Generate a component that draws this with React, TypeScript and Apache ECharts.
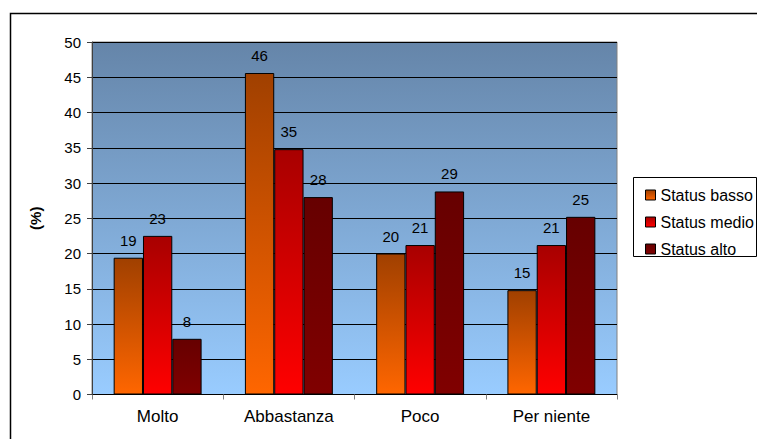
import React, { useEffect, useRef } from "react";
import * as echarts from "echarts";

const categories = ["Molto", "Abbastanza", "Poco", "Per niente"];
const seriesNames = ["Status basso", "Status medio", "Status alto"];
const statusBasso = [19.4, 45.6, 20.0, 14.8];
const statusMedio = [22.5, 34.8, 21.2, 21.2];
const statusAlto = [7.9, 28.0, 28.8, 25.2];
const yTicks = { min: 0, max: 50, interval: 5 };

const FONT = "'Liberation Sans', Arial, sans-serif";

function grad(top: string, bottom: string) {
  return new echarts.graphic.LinearGradient(0, 0, 0, 1, [
    { offset: 0, color: top },
    { offset: 1, color: bottom },
  ]);
}

export default function App() {
  const ref = useRef<HTMLDivElement>(null);
  useEffect(() => {
    if (!ref.current) return;
    const chart = echarts.init(ref.current, undefined, { renderer: "svg" });
    const label = {
      show: true,
      position: "top" as const,
      distance: 10,
      color: "#000",
      fontFamily: FONT,
      fontSize: 15,
      formatter: (p: any) => String(Math.round(p.value)),
    };
    const mk = (name: string, data: number[], top: string, bottom: string) => ({
      type: "bar",
      name,
      data,
      barGap: "0%",
      barCategoryGap: "33%",
      itemStyle: { color: grad(top, bottom), borderColor: "#000", borderWidth: 1 },
      label,
    });
    chart.setOption({
      animation: false,
      backgroundColor: "#fff",
      textStyle: { fontFamily: FONT },
      grid: {
        left: 92,
        top: 42,
        right: 140,
        bottom: 44.5,
        show: true,
        backgroundColor: grad("#6585A9", "#99CCFF"),
        borderColor: "#808080",
        borderWidth: 1,
      },
      legend: {
        orient: "vertical",
        left: 640,
        top: 182,
        itemWidth: 10,
        itemHeight: 10,
        itemGap: 11,
        icon: "rect",
        data: seriesNames,
        itemStyle: { borderColor: "#000", borderWidth: 1 },
        textStyle: { fontFamily: FONT, fontSize: 16, color: "#000", lineHeight: 16 },
      },
      graphic: [
        {
          type: "rect",
          shape: { x: 10.5, y: 13.5, width: 800, height: 500 },
          style: { fill: "none", stroke: "#000", lineWidth: 1.5 },
          z: 100,
        },
        {
          type: "rect",
          shape: { x: 633.5, y: 177.5, width: 123, height: 79 },
          style: { fill: "none", stroke: "#000", lineWidth: 1 },
          z: 100,
        },
      ],
      xAxis: {
        type: "category",
        data: categories,
        axisLine: { lineStyle: { color: "#000", width: 1 } },
        axisTick: { show: true, length: 5, lineStyle: { color: "#808080" } },
        axisLabel: { color: "#000", fontSize: 17, fontFamily: FONT, margin: 13 },
      },
      yAxis: {
        type: "value",
        min: yTicks.min,
        max: yTicks.max,
        interval: yTicks.interval,
        name: "(%)",
        nameLocation: "middle",
        nameGap: 49,
        nameRotate: 90,
        nameTextStyle: { fontWeight: "bold", fontSize: 15, color: "#000", fontFamily: FONT },
        axisLine: { show: true, lineStyle: { color: "#404040", width: 1 } },
        axisTick: { show: true, length: 5, lineStyle: { color: "#404040" } },
        axisLabel: { color: "#000", fontSize: 15, fontFamily: FONT, margin: 11 },
        splitLine: { show: true, lineStyle: { color: "#000", width: 1 } },
      },
      series: [
        mk(seriesNames[0], statusBasso, "#A04000", "#FF6600"),
        mk(seriesNames[1], statusMedio, "#A80000", "#FF0000"),
        mk(seriesNames[2], statusAlto, "#660000", "#800000"),
      ],
    });
    return () => chart.dispose();
  }, []);
  return (
    <div
      ref={ref}
      style={{ position: "absolute", left: 0, top: 0, width: 757, height: 439 }}
    />
  );
}
